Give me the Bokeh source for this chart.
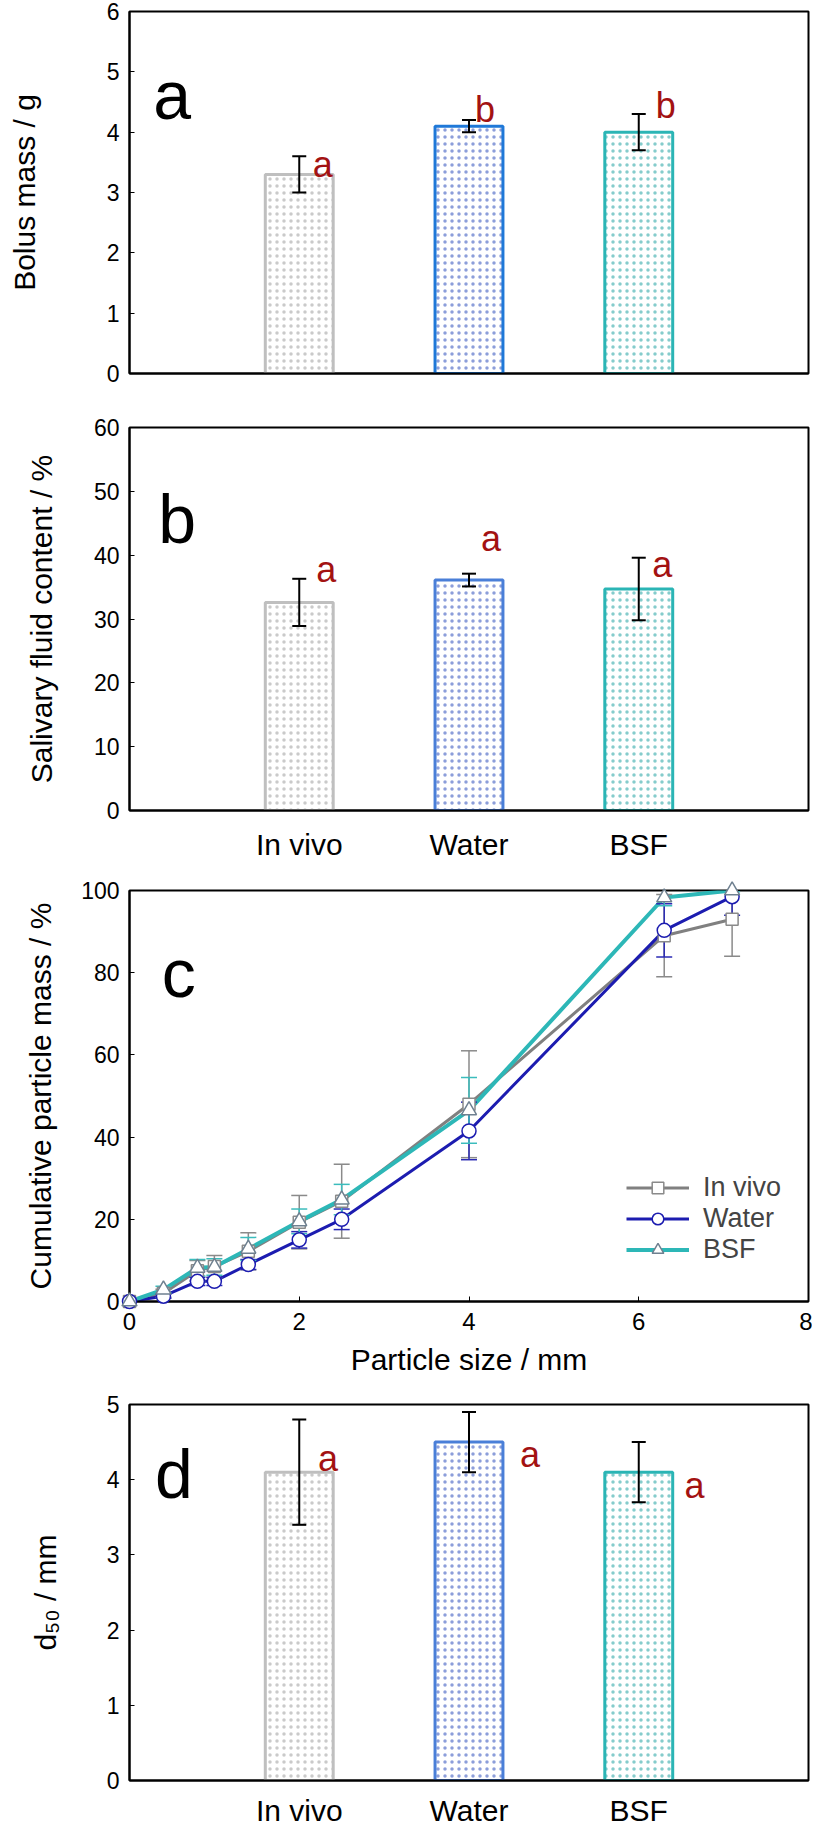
from bokeh.plotting import figure
from bokeh.models import (ColumnDataSource, Whisker, TeeHead, FixedTicker, Label,
                          Legend, LegendItem, Range1d)
from bokeh.layouts import column
from bokeh.embed import file_html
from bokeh.resources import INLINE
from bokeh.core.properties import value

FONT = "Liberation Sans"

# ---------------- data ----------------
categories = ["In vivo", "Water", "BSF"]

bolus_mass = [3.3, 4.1, 4.0]
bolus_mass_err = [0.3, 0.1, 0.3]
bolus_letters = ["a", "b", "b"]

saliva_content = [32.6, 36.1, 34.7]
saliva_err = [3.7, 1.0, 4.9]
saliva_letters = ["a", "a", "a"]

d50 = [4.1, 4.5, 4.1]
d50_err = [0.7, 0.4, 0.4]
d50_letters = ["a", "a", "a"]

particle_size = [0, 0.4, 0.8, 1.0, 1.4, 2.0, 2.5, 4.0, 6.3, 7.1]
cum_invivo = [0, 2.0, 7.5, 8.5, 12.2, 19.3, 24.4, 48.0, 89.0, 93.0]
cum_invivo_err = [0, 1.0, 2.5, 2.7, 4.5, 6.5, 9.0, 13.0, 10.0, 9.0]
cum_water = [0, 1.3, 4.9, 4.9, 9.0, 15.0, 20.0, 41.5, 90.3, 98.5]
cum_water_err = [0, 0.5, 1.0, 1.0, 1.2, 2.0, 2.5, 7.0, 6.5, 4.5]
cum_bsf = [0, 2.9, 8.2, 8.4, 12.8, 19.5, 24.8, 46.5, 98.3, 100.0]
cum_bsf_err = [0, 0.8, 2.0, 2.0, 2.8, 3.0, 3.7, 8.0, 2.0, 0.3]

ticks_a = [0, 1, 2, 3, 4, 5, 6]
ticks_b = [0, 10, 20, 30, 40, 50, 60]
ticks_c_x = [0, 2, 4, 6, 8]
ticks_c_y = [0, 20, 40, 60, 80, 100]
ticks_d = [0, 1, 2, 3, 4, 5]

# ---------------- style ----------------
RED = "#a31212"
BAR_LINE_GRAY = "#bfbfbf"
BAR_TEAL = "#2bb5b5"
HATCH = ["#c4c4c4", "#7f93d6", "#78c6c6"]


def base_fig(height, top, bottom, left, right, xr, yr):
    p = figure(width=812, height=height, x_range=xr, y_range=yr,
               output_backend="svg", toolbar_location=None,
               min_border_left=left, min_border_right=right,
               min_border_top=top, min_border_bottom=bottom)
    p.xgrid.visible = False
    p.ygrid.visible = False
    p.outline_line_color = "black"
    p.outline_line_width = 2
    p.outline_line_alpha = 1
    p.background_fill_color = "white"
    p.border_fill_color = "white"
    for ax in (p.xaxis[0], p.yaxis[0]):
        ax.axis_line_width = 2
        ax.axis_line_color = "black"
        ax.major_tick_in = 5
        ax.major_tick_out = 0
        ax.major_tick_line_width = 1
        ax.minor_tick_line_color = None
        ax.major_label_text_font = FONT
        ax.major_label_text_color = "black"
        ax.axis_label_text_font = FONT
        ax.axis_label_text_font_style = "normal"
        ax.axis_label_text_color = "black"
        ax.axis_label_text_font_size = "30px"
    p.yaxis.major_label_text_font_size = "23px"
    p.yaxis.major_label_standoff = 10
    return p


def bar_panel(vals, errs, letters, ymax, yticks, ylabel, panel_letter, pl_xy,
              ldx, ldy, water_color, height, top, bottom, left, show_cats,
              ylab_standoff, cat_standoff):
    p = base_fig(height, top, bottom, left, 1, Range1d(0, 4), Range1d(0, ymax))
    xs = [i + 1 for i in range(len(categories))]
    src = ColumnDataSource(dict(
        x=xs, top=vals,
        upper=[v + e for v, e in zip(vals, errs)],
        lower=[v - e for v, e in zip(vals, errs)],
        line=[BAR_LINE_GRAY, water_color, BAR_TEAL],
        hatch=HATCH))
    p.vbar(x="x", top="top", bottom=0, width=0.4, source=src,
           fill_color="white", line_color="line", line_width=3,
           hatch_pattern="dot", hatch_color="hatch", hatch_scale=7,
           hatch_alpha=0.9)
    w = Whisker(source=src, base="x", upper="upper", lower="lower",
                line_color="black", line_width=2, level="annotation",
                upper_head=TeeHead(size=14, line_color="black", line_width=2),
                lower_head=TeeHead(size=14, line_color="black", line_width=2))
    p.add_layout(w)
    lsrc = ColumnDataSource(dict(
        x=[x + d for x, d in zip(xs, ldx)],
        y=[u + d for u, d in zip(src.data["upper"], ldy)],
        t=letters))
    p.text(x="x", y="y", text="t", source=lsrc, text_color=RED,
           text_font=value(FONT), text_font_size="36px",
           text_align="left", text_baseline="alphabetic")
    p.add_layout(Label(x=pl_xy[0], y=pl_xy[1], text=panel_letter,
                       text_font=FONT, text_font_size="68px",
                       text_color="black", text_baseline="alphabetic"))
    p.yaxis.ticker = FixedTicker(ticks=yticks)
    p.yaxis.axis_label = ylabel
    p.yaxis.axis_label_standoff = ylab_standoff
    p.xaxis.major_tick_line_color = None
    if show_cats:
        p.xaxis.ticker = FixedTicker(ticks=xs)
        p.xaxis.major_label_overrides = {x: c for x, c in zip(xs, categories)}
        p.xaxis.major_label_standoff = cat_standoff
        p.xaxis.major_label_text_font_size = "30px"
    else:
        p.xaxis.ticker = FixedTicker(ticks=[])
    return p


pa = bar_panel(bolus_mass, bolus_mass_err, bolus_letters, 6, ticks_a,
               "Bolus mass / g", "a", (0.14, 4.61),
               [0.08, 0.035, 0.10], [-0.14, 0.18, 0.14], "#1f78d8",
               400, 11, 27, 125, False, 63, 10)

pb = bar_panel(saliva_content, saliva_err, saliva_letters, 60, ticks_b,
               "Salivary fluid content / %", "b", (0.17, 45.6),
               [0.10, 0.07, 0.08], [1.5, 5.5, -1.0], "#4a7fd8",
               470, 27, 60, 126, True, 33, 17)

pd_ = bar_panel(d50, d50_err, d50_letters, 5, ticks_d,
                "d\u2085\u2080 / mm", "d", (0.15, 4.07),
                [0.11, 0.30, 0.27], [-0.52, -0.57, -0.58], "#4a7fd8",
                442, 17, 45, 129, True, 42, 13)

# ---------------- panel c ----------------
pc = base_fig(517, 20, 86, 128, 4, Range1d(0, 8), Range1d(0, 100))
pc.xaxis.ticker = FixedTicker(ticks=ticks_c_x)
pc.yaxis.ticker = FixedTicker(ticks=ticks_c_y)
pc.xaxis.major_label_text_font_size = "24px"
pc.xaxis.major_label_standoff = 11
pc.xaxis.axis_label = "Particle size / mm"
pc.xaxis.axis_label_standoff = 10
pc.yaxis.axis_label = "Cumulative particle mass / %"
pc.yaxis.axis_label_standoff = 21

series = [
    ("In vivo", cum_invivo, cum_invivo_err, "#808080", 3, "square", 12, "#8a8a8a", "#8a8a8a"),
    ("Water", cum_water, cum_water_err, "#1c1cb0", 3, "circle", 14, "#1c1cb0", "#2a2ab4"),
    ("BSF", cum_bsf, cum_bsf_err, "#2db7b7", 4, "triangle", 15, "#6f8090", "#3bbcbc"),
]
items = []
line_rs = []
marker_rs = []
for name, ys, es, col, lw, mk, ms, mcol, ecol in series:
    src = ColumnDataSource(dict(x=particle_size, y=ys))
    lr = pc.line("x", "y", source=src, line_color=col, line_width=lw)
    keep = [i for i, e in enumerate(es) if e > 0]
    wsrc = ColumnDataSource(dict(
        x=[particle_size[i] for i in keep],
        upper=[ys[i] + es[i] for i in keep],
        lower=[ys[i] - es[i] for i in keep]))
    pc.add_layout(Whisker(source=wsrc, base="x", upper="upper", lower="lower",
                          line_color=ecol, line_width=1.5, level="glyph",
                          upper_head=TeeHead(size=16, line_color=ecol, line_width=1.5),
                          lower_head=TeeHead(size=16, line_color=ecol, line_width=1.5)))
    line_rs.append((name, lr))
    marker_rs.append((src, mk, ms, mcol))

for (name, lr), (src, mk, ms, mcol) in zip(line_rs, marker_rs):
    mr = pc.scatter("x", "y", source=src, marker=mk, size=ms,
                    fill_color="white", line_color=mcol, line_width=1.5,
                    level="annotation")
    items.append(LegendItem(label=name, renderers=[lr, mr]))

legend = Legend(items=items, location=(497, 36), padding=0, margin=0, spacing=0,
                glyph_height=29, glyph_width=63, label_height=29,
                label_standoff=14, label_text_font=FONT,
                label_text_font_size="27px", border_line_color=None,
                background_fill_alpha=0)
pc.add_layout(legend)
pc.add_layout(Label(x=0.38, y=80, text="c", text_font=FONT, text_font_size="68px",
                    text_color="black", text_baseline="alphabetic"))

layout = column(pa, pb, pc, pd_, spacing=0)
open("out.html", "w").write(file_html(layout, INLINE))
